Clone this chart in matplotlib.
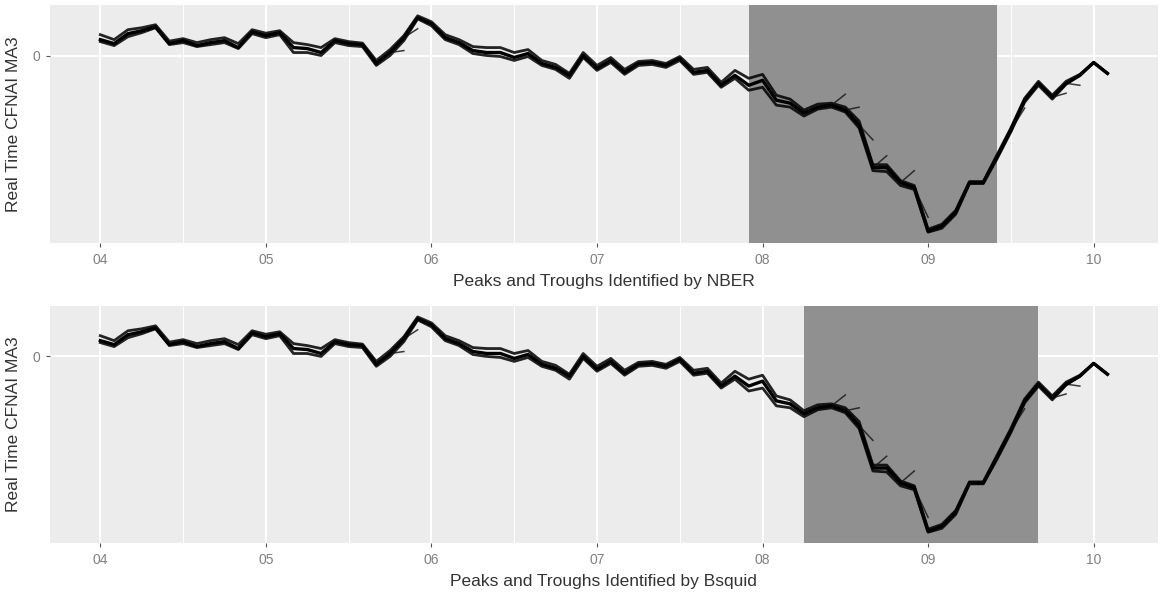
import numpy as np
import matplotlib.pyplot as plt

plt.rcParams['font.family'] = ['Liberation Sans', 'DejaVu Sans']

# monthly observations, Jan 2004 .. Feb 2010 (x in years since 2000)
months = np.arange(74)
x_year = 4 + months / 12.0

# latest real-time vintage of CFNAI MA3
cfnai_ma3 = [0.32, 0.24, 0.44, 0.50, 0.58, 0.24, 0.30, 0.20, 0.26, 0.30,
             0.16, 0.48, 0.40, 0.46, 0.16, 0.14, 0.06, 0.30, 0.24, 0.22,
             -0.16, 0.06, 0.36, 0.76, 0.64, 0.36, 0.26, 0.10, 0.06, 0.06,
             -0.04, 0.04, -0.16, -0.24, -0.40, 0.00, -0.26, -0.10, -0.34, -0.16,
             -0.14, -0.20, -0.06, -0.34, -0.30, -0.60, -0.40, -0.60, -0.50, -0.90,
             -0.96, -1.16, -1.04, -1.00, -1.10, -1.40, -2.26, -2.26, -2.56, -2.66,
             -3.54, -3.44, -3.16, -2.56, -2.56, -2.04, -1.50, -0.90, -0.56, -0.84,
             -0.56, -0.40, -0.14, -0.36]

# spread of the other vintages around it (upper / lower edge of the bundle)
rev_hi = [0.10, 0.08, 0.08, 0.06, 0.04,
          0.05, 0.04, 0.06, 0.06, 0.06, 0.08, 0.04, 0.05, 0.04,
          0.10, 0.08, 0.10,
          0.04, 0.04, 0.03, 0.06, 0.06, 0.04, 0.04, 0.04,
          0.06, 0.06, 0.08, 0.10, 0.10, 0.10, 0.08, 0.06, 0.06, 0.04,
          0.06, 0.06, 0.06, 0.06, 0.04, 0.04, 0.04, 0.04, 0.06, 0.06, 0.06, 0.10,
          0.14, 0.12, 0.10, 0.08,
          0.06, 0.06, 0.04, 0.06, 0.08,
          0.06, 0.06, 0.04, 0.04, 0.04,
          0.04, 0.04, 0.02, 0.02, 0.04, 0.04, 0.04, 0.04, 0.04, 0.04, 0.02, 0.0, 0.0]
rev_lo = [-0.04, -0.04, -0.06, -0.04, -0.02,
          -0.02, -0.04, -0.02, -0.04, -0.04, -0.02, -0.04, -0.04, -0.04,
          -0.10, -0.08, -0.06,
          -0.04, -0.04, -0.04, -0.04, -0.06, -0.06, -0.02, -0.04,
          -0.04, -0.04, -0.06, -0.06, -0.08, -0.06, -0.06, -0.04, -0.04, -0.06,
          -0.04, -0.04, -0.04, -0.04, -0.04, -0.04, -0.04, -0.04, -0.04, -0.04, -0.04, -0.06,
          -0.10, -0.14, -0.10, -0.08,
          -0.06, -0.04, -0.04, -0.04, -0.06,
          -0.06, -0.08, -0.06, -0.04, -0.02,
          -0.04, -0.04, -0.02, -0.02, -0.04, -0.04, -0.04, -0.04, -0.04, -0.02, 0.0, 0.0, 0.0]

# short vintages whose last point differs from later releases
stub_end_month = [22, 23, 54, 55, 56, 57, 59, 60, 67, 70, 71]
stub_end_value = [0.10, 0.54, -0.78, -1.04, -1.70, -2.02, -2.32, -3.26, -1.06, -0.76, -0.60]

x_ticks = [4, 5, 6, 7, 8, 9, 10]
x_labels = ['04', '05', '06', '07', '08', '09', '10']

# recession periods (start, end) in years since 2000
nber_period = (7 + 11 / 12, 9 + 5 / 12)      # Dec 2007 - Jun 2009
bsquid_period = (8 + 3 / 12, 9 + 8 / 12)     # Apr 2008 - Sep 2009

panels = [
    ("Peaks and Troughs Identified by NBER", nber_period, [0.0431, 0.5916, 0.955, 0.400]),
    ("Peaks and Troughs Identified by Bsquid", bsquid_period, [0.0431, 0.0874, 0.955, 0.398]),
]

main = np.array(cfnai_ma3)
hi = main + np.array(rev_hi)
lo = main + np.array(rev_lo)

# axis ranges with ggplot-like 5% expansion
x_lo, x_hi = x_year[0], x_year[-1]
x_pad = 0.05 * (x_hi - x_lo)
y_min, y_max = lo.min(), hi.max()
y_pad = 0.05 * (y_max - y_min)

fig = plt.figure(figsize=(11.6, 5.95), dpi=100)

for title, period, rect in panels:
    ax = fig.add_axes(rect)
    ax.set_facecolor('#ECECEC')
    ax.set_xlim(x_lo - x_pad, x_hi + x_pad)
    ax.set_ylim(y_min - y_pad, y_max + y_pad)

    # grid
    for xt in x_ticks:
        ax.axvline(xt, color='white', lw=1.4, zorder=0.5)
        ax.axvline(xt - 0.5, color='white', lw=0.7, zorder=0.5)
    ax.axvline(x_ticks[-1] + 0.5, color='white', lw=0.7, zorder=0.5)
    ax.axhline(0, color='white', lw=1.4, zorder=0.5)

    # recession shading
    ax.axvspan(period[0], period[1], color='#8c8c8c', alpha=0.96, lw=0, zorder=1)

    # vintages
    ax.plot(x_year, hi, color='black', lw=2.0, alpha=0.85, zorder=2)
    ax.plot(x_year, lo, color='black', lw=2.0, alpha=0.85, zorder=2)
    ax.plot(x_year, main, color='black', lw=2.4, zorder=3)
    for m, v in zip(stub_end_month, stub_end_value):
        ax.plot([x_year[m - 1], x_year[m]], [main[m - 1], v],
                color='#1a1a1a', lw=1.1, alpha=0.85, zorder=2)

    ax.set_xticks(x_ticks)
    ax.set_xticklabels(x_labels)
    ax.set_yticks([0])
    ax.set_yticklabels(['0'])
    ax.tick_params(axis='both', colors='#555555', labelcolor='#808080',
                   labelsize=10, length=3, width=0.8, pad=4)
    for s in ax.spines.values():
        s.set_visible(False)

    ax.set_xlabel(title, fontsize=12.5, color='#333333', labelpad=5)
    ax.set_ylabel('Real Time CFNAI MA3', fontsize=12.5, color='#333333', labelpad=8)

fig.savefig('out.png', dpi=100)
